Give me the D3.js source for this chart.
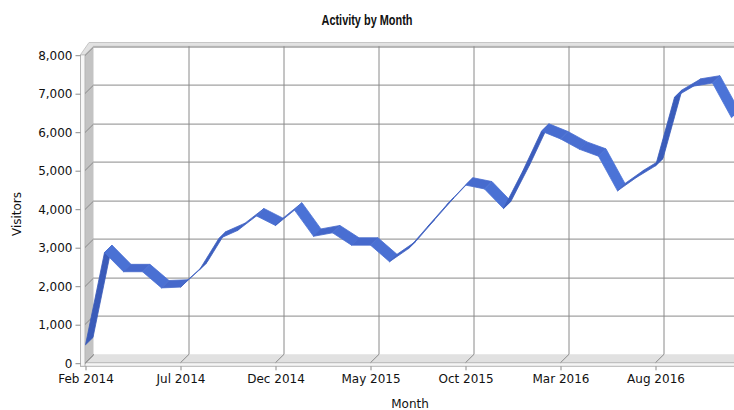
<!DOCTYPE html>
<html>
<head>
<meta charset="utf-8">
<script src="https://cdn.jsdelivr.net/npm/d3@7"></script>
<style>
  body { margin: 0; background: #fff; }
  svg { display: block; }
  text { fill: #111; }
</style>
</head>
<body>
<svg id="chart" width="734" height="410"></svg>
<script>
// month categories
const months = [
  "Feb 2014", "Mar 2014", "Apr 2014", "May 2014", "Jun 2014", "Jul 2014", "Aug 2014",
  "Sep 2014", "Oct 2014", "Nov 2014", "Dec 2014", "Jan 2015", "Feb 2015", "Mar 2015",
  "Apr 2015", "May 2015", "Jun 2015", "Jul 2015", "Aug 2015", "Sep 2015", "Oct 2015",
  "Nov 2015", "Dec 2015", "Jan 2016", "Feb 2016", "Mar 2016", "Apr 2016", "May 2016",
  "Jun 2016", "Jul 2016", "Aug 2016", "Sep 2016", "Oct 2016", "Nov 2016", "Dec 2016"
];
// visitors per month
const visitors = [
  450, 2850, 2350, 2350, 1930, 1950, 2400, 3200, 3420, 3800, 3550, 3950, 3270, 3360,
  3040, 3040, 2610, 2950, 3520, 4080, 4600, 4500, 3990, 4950, 6000, 5800, 5530, 5350,
  4450, 4800, 5100, 6880, 7170, 7250, 6350
];
const xTickLabels = ["Feb 2014", "Jul 2014", "Dec 2014", "May 2015", "Oct 2015", "Mar 2016", "Aug 2016"];
const yTicks = [0, 1000, 2000, 3000, 4000, 5000, 6000, 7000, 8000];

const svg = d3.select("#chart");
const font = "DejaVu Sans, sans-serif";

// front plane scales, depth offset goes up-right
const dX = 8.5, dY = -8.4;
const x = d3.scalePoint().domain(months).range([85, 85 + 19 * (months.length - 1)]);
const y = d3.scaleLinear().domain([0, 8000]).range([362.7, 54.7]);
const P = (px, py, z) => [px + dX * z, py + dY * z];
const right = 760;
const gridColor = "#8a8a8a";

// back wall
svg.append("rect")
  .attr("x", 85 + dX).attr("y", y(8000) + dY)
  .attr("width", right).attr("height", y(0) - y(8000))
  .attr("fill", "#fff");

// floor
svg.append("polygon")
  .attr("points", [[85, y(0)], P(85, y(0), 1), [right, y(0) + dY], [right, y(0)]].join(" "))
  .attr("fill", "#e1e1e1");
svg.append("rect")
  .attr("x", 80.5).attr("y", y(0)).attr("width", right).attr("height", 3.6)
  .attr("fill", "#f5f5f5").attr("stroke", "#b5b5b5").attr("stroke-width", 1);

// left wall
svg.append("polygon")
  .attr("points", [[85, y(0)], [85, y(8000)], P(85, y(8000), 1), P(85, y(0), 1)].join(" "))
  .attr("fill", "#c3c3c3");
svg.append("rect")
  .attr("x", 80.5).attr("y", y(8000)).attr("width", 4.5).attr("height", y(0) - y(8000) + 3.6)
  .attr("fill", "#f7f7f7").attr("stroke", "#b5b5b5").attr("stroke-width", 1);

// top edge of the walls
svg.append("polygon")
  .attr("points", [[80.5, y(8000)], [80.5 + dX, y(8000) + dY - 3.8], [right, y(8000) + dY - 3.8],
                   [right, y(8000) + dY], P(85, y(8000), 1), [85, y(8000)]].join(" "))
  .attr("fill", "#e2e2e2").attr("stroke", "#c6c6c6").attr("stroke-width", 1);

// horizontal grid on back wall + across left wall
const grid = svg.append("g").attr("stroke", gridColor).attr("stroke-width", 1).attr("fill", "none");
yTicks.forEach(v => {
  const yy = Math.round(y(v)) + 0.5;
  if (v > 0) {
    grid.append("line").attr("x1", 85 + dX).attr("x2", right)
      .attr("y1", yy + dY).attr("y2", yy + dY);
  }
  grid.append("line").attr("x1", 85 + dX).attr("y1", yy + dY).attr("x2", 85).attr("y2", yy);
});
// vertical grid on back wall + across floor
xTickLabels.forEach(m => {
  const xx = Math.round(x(m)) + 0.5;
  if (m !== months[0]) {
    grid.append("line").attr("x1", xx + dX).attr("x2", xx + dX)
      .attr("y1", y(8000) + dY).attr("y2", y(0) + dY);
  }
  grid.append("line").attr("x1", xx + dX).attr("y1", y(0) + dY).attr("x2", xx).attr("y2", y(0));
});

// axes on the front plane
const yAxis = svg.append("g")
  .attr("transform", "translate(80.5,0.5)")
  .call(d3.axisLeft(y).tickValues(yTicks).tickFormat(d3.format(",")).tickSize(5).tickPadding(3));
yAxis.select(".domain").remove();
yAxis.selectAll(".tick line").attr("stroke", gridColor);
yAxis.selectAll("text").attr("font-size", 12).attr("font-family", font).attr("fill", "#111");

const xAxis = svg.append("g")
  .attr("transform", "translate(0.5," + (y(0) + 3.6) + ")")
  .call(d3.axisBottom(x).tickValues(xTickLabels).tickSize(4).tickPadding(4));
xAxis.select(".domain").remove();
xAxis.selectAll(".tick line").attr("stroke", gridColor);
xAxis.selectAll("text").attr("font-size", 12).attr("font-family", font).attr("fill", "#111");

// 3D ribbon line
const z0 = 0.06, z1 = 0.94;
const shade = d3.scaleLinear()
  .domain([-90, 0, 90])
  .range(["#4e78dc", "#4669cc", "#3859b6"]);
const ribbon = svg.append("g");
for (let i = 0; i < visitors.length - 1; i++) {
  const ax = x(months[i]), ay = y(visitors[i]);
  const bx = x(months[i + 1]), by = y(visitors[i + 1]);
  const ang = Math.atan2(ay - by, bx - ax) * 180 / Math.PI;
  const pts = [P(ax, ay, z0), P(bx, by, z0), P(bx, by, z1), P(ax, ay, z1)];
  ribbon.append("polygon")
    .attr("points", pts.join(" "))
    .attr("fill", shade(ang))
    .attr("stroke", shade(ang))
    .attr("stroke-width", 0.8)
    .attr("stroke-linejoin", "round");
}

// titles
svg.append("text")
  .attr("x", 367).attr("y", 24.5)
  .attr("text-anchor", "middle")
  .attr("font-family", "Liberation Sans, Arial, sans-serif")
  .attr("font-weight", "bold").attr("font-size", 14.5)
  .attr("textLength", 91).attr("lengthAdjust", "spacingAndGlyphs")
  .text("Activity by Month");
svg.append("text")
  .attr("transform", "translate(21,214) rotate(-90)")
  .attr("text-anchor", "middle").attr("font-size", 12).attr("font-family", font)
  .text("Visitors");
svg.append("text")
  .attr("x", 410).attr("y", 408)
  .attr("text-anchor", "middle").attr("font-size", 12).attr("font-family", font)
  .text("Month");
</script>
</body>
</html>
